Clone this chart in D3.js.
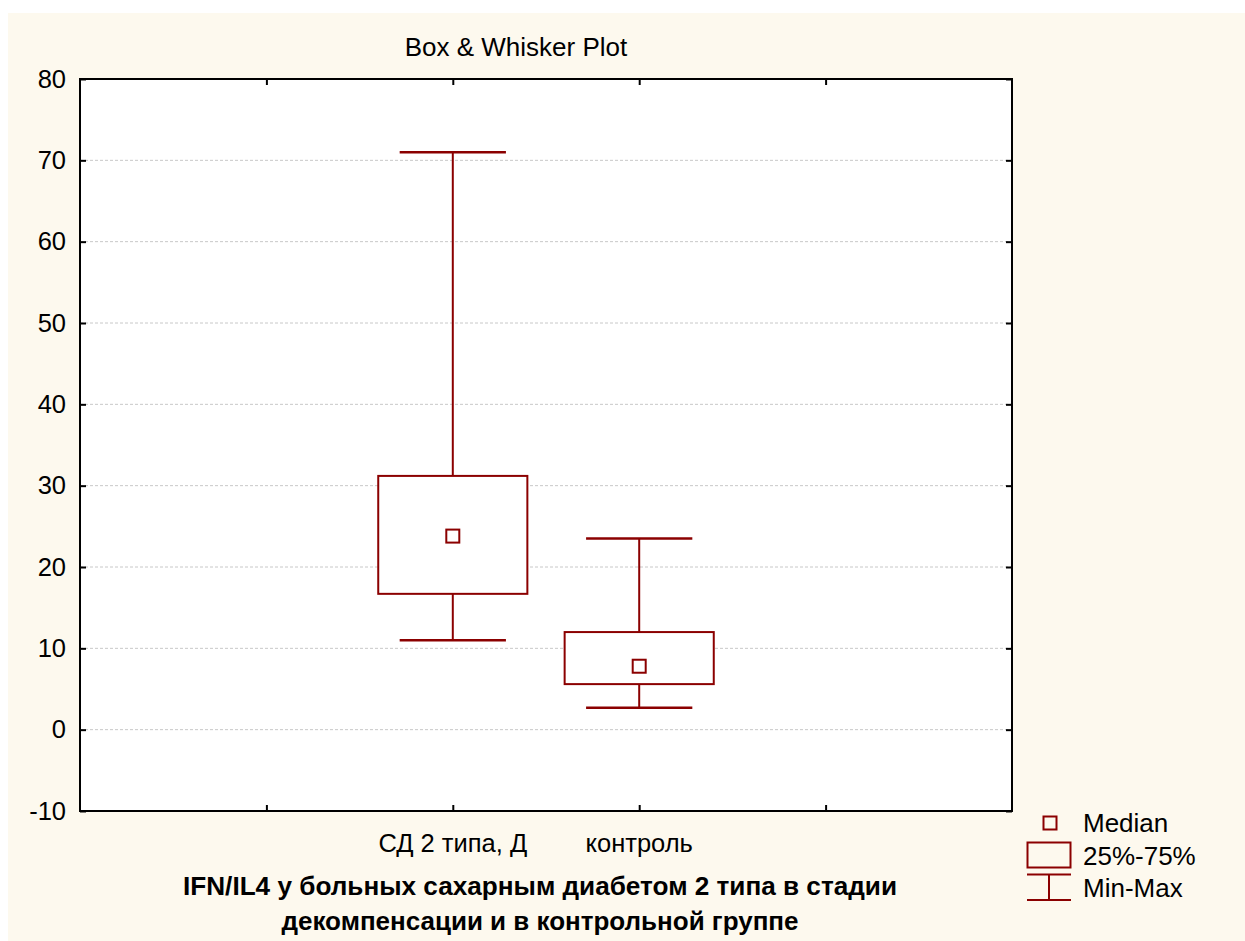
<!DOCTYPE html>
<html>
<head>
<meta charset="utf-8">
<script src="https://cdn.jsdelivr.net/npm/d3@7"></script>
<style>
  html, body { margin: 0; padding: 0; background: #fff; }
  svg { display: block; font-family: "Liberation Sans", Arial, sans-serif; }
</style>
</head>
<body>
<div id="chart"></div>
<script>
/* Box & whisker plot: IFN/IL4 */

const categories = ["СД 2 типа, Д", "контроль"];
const mins = [11.0, 2.7];
const q1 = [16.7, 5.6];
const medians = [23.8, 7.8];
const q3 = [31.2, 12.0];
const maxs = [71.0, 23.5];
const yTicks = [-10, 0, 10, 20, 30, 40, 50, 60, 70, 80];
const legendLabels = ["Median", "25%-75%", "Min-Max"];

const W = 1245, H = 941;
const plot = { left: 80, right: 1012, top: 79, bottom: 811 };
const red = "#8b0000";

const svg = d3.select("#chart").append("svg")
  .attr("width", W)
  .attr("height", H);

// cream panel
svg.append("rect")
  .attr("x", 8).attr("y", 13)
  .attr("width", W - 8).attr("height", H - 13)
  .attr("fill", "#fdf9ee");

svg.append("rect")
  .attr("x", plot.left).attr("y", plot.top)
  .attr("width", plot.right - plot.left).attr("height", plot.bottom - plot.top)
  .attr("fill", "#fff");

const y = d3.scaleLinear().domain([-10, 80]).range([plot.bottom, plot.top]);
// five slots across, groups sit at slots 2 and 3
const x = d3.scaleLinear().domain([0, 5]).range([plot.left, plot.right]);
const slot = x(1) - x(0);
const xPos = i => x(i + 2);

// grid
svg.append("g")
  .selectAll("line")
  .data(yTicks.filter(t => t > -10 && t < 80))
  .join("line")
  .attr("x1", plot.left).attr("x2", plot.right)
  .attr("y1", d => y(d)).attr("y2", d => y(d))
  .attr("stroke", "#c8c8c8")
  .attr("stroke-width", 1)
  .attr("stroke-dasharray", "3,2");

// axes (ticks pointing inward)
const axisStyle = g => {
  g.select(".domain").remove();
  g.selectAll(".tick line").attr("stroke", "#000").attr("stroke-width", 2);
};

svg.append("g")
  .attr("transform", `translate(${plot.left},0)`)
  .call(d3.axisLeft(y).tickValues(yTicks).tickSize(-6).tickPadding(14).tickFormat(d => String(d)))
  .call(axisStyle)
  .call(g => g.selectAll("text")
    .attr("font-size", 25.5).attr("fill", "#000")
    .attr("font-family", "Liberation Sans, Arial, sans-serif"));

svg.append("g")
  .attr("transform", `translate(${plot.right},0)`)
  .call(d3.axisRight(y).tickValues(yTicks).tickSize(-6).tickFormat(""))
  .call(axisStyle);

svg.append("g")
  .attr("transform", `translate(0,${plot.bottom})`)
  .call(d3.axisBottom(x).tickValues([1, 2, 3, 4]).tickSize(-6).tickFormat(""))
  .call(axisStyle);

svg.append("g")
  .attr("transform", `translate(0,${plot.top})`)
  .call(d3.axisTop(x).tickValues([1, 2, 3, 4]).tickSize(-6).tickFormat(""))
  .call(axisStyle);

// frame
svg.append("rect")
  .attr("x", plot.left).attr("y", plot.top)
  .attr("width", plot.right - plot.left).attr("height", plot.bottom - plot.top)
  .attr("fill", "none")
  .attr("stroke", "#000")
  .attr("stroke-width", 2);

// category labels
svg.append("g")
  .selectAll("text")
  .data(categories)
  .join("text")
  .attr("x", (d, i) => xPos(i))
  .attr("y", 852)
  .attr("text-anchor", "middle")
  .attr("font-size", 25.5)
  .attr("fill", "#000")
  .text(d => d);

// boxes
const boxW = slot * 0.8;
const capW = slot * 0.57;
const groups = svg.append("g")
  .selectAll("g")
  .data(categories.map((c, i) => ({ c, i, min: mins[i], q1: q1[i], med: medians[i], q3: q3[i], max: maxs[i] })))
  .join("g");

groups.append("line")
  .attr("x1", d => xPos(d.i)).attr("x2", d => xPos(d.i))
  .attr("y1", d => y(d.q3)).attr("y2", d => y(d.max))
  .attr("stroke", red).attr("stroke-width", 2);
groups.append("line")
  .attr("x1", d => xPos(d.i)).attr("x2", d => xPos(d.i))
  .attr("y1", d => y(d.q1)).attr("y2", d => y(d.min))
  .attr("stroke", red).attr("stroke-width", 2);
groups.selectAll(".cap")
  .data(d => [{ i: d.i, v: d.min }, { i: d.i, v: d.max }])
  .join("line")
  .attr("class", "cap")
  .attr("x1", d => xPos(d.i) - capW / 2).attr("x2", d => xPos(d.i) + capW / 2)
  .attr("y1", d => y(d.v)).attr("y2", d => y(d.v))
  .attr("stroke", red).attr("stroke-width", 2.5);
groups.append("rect")
  .attr("x", d => xPos(d.i) - boxW / 2)
  .attr("y", d => y(d.q3))
  .attr("width", boxW)
  .attr("height", d => y(d.q1) - y(d.q3))
  .attr("fill", "#fff")
  .attr("stroke", red).attr("stroke-width", 2);
groups.append("rect")
  .attr("x", d => xPos(d.i) - 6.5)
  .attr("y", d => y(d.med) - 6.5)
  .attr("width", 13).attr("height", 13)
  .attr("fill", "#fff")
  .attr("stroke", red).attr("stroke-width", 2);

// title
svg.append("text")
  .attr("x", 516).attr("y", 56)
  .attr("text-anchor", "middle")
  .attr("font-size", 26)
  .attr("fill", "#000")
  .text("Box & Whisker Plot");

// bottom caption
const caption = ["IFN/IL4 у больных сахарным диабетом 2 типа в стадии", "декомпенсации и в контрольной группе"];
const captionW = [714, 517];
svg.append("g")
  .selectAll("text")
  .data(caption)
  .join("text")
  .attr("x", 540)
  .attr("y", (d, i) => 895 + i * 35)
  .attr("text-anchor", "middle")
  .attr("font-size", 25)
  .attr("font-weight", "bold")
  .attr("textLength", (d, i) => captionW[i])
  .attr("lengthAdjust", "spacingAndGlyphs")
  .attr("fill", "#000")
  .text(d => d);

// legend
const lg = svg.append("g");
lg.append("rect")
  .attr("x", 1043.5).attr("y", 816.5).attr("width", 13).attr("height", 13)
  .attr("fill", "none").attr("stroke", red).attr("stroke-width", 2);
lg.append("rect")
  .attr("x", 1027.5).attr("y", 842.5).attr("width", 43).attr("height", 25)
  .attr("fill", "none").attr("stroke", red).attr("stroke-width", 2);
lg.append("line").attr("x1", 1027).attr("x2", 1071).attr("y1", 874.5).attr("y2", 874.5)
  .attr("stroke", red).attr("stroke-width", 2);
lg.append("line").attr("x1", 1027).attr("x2", 1071).attr("y1", 900).attr("y2", 900)
  .attr("stroke", red).attr("stroke-width", 2);
lg.append("line").attr("x1", 1049).attr("x2", 1049).attr("y1", 874.5).attr("y2", 900)
  .attr("stroke", red).attr("stroke-width", 2);
lg.selectAll("text")
  .data(legendLabels)
  .join("text")
  .attr("x", 1083)
  .attr("y", (d, i) => 832 + i * 32.5)
  .attr("font-size", 26)
  .attr("fill", "#000")
  .text(d => d);
</script>
</body>
</html>
